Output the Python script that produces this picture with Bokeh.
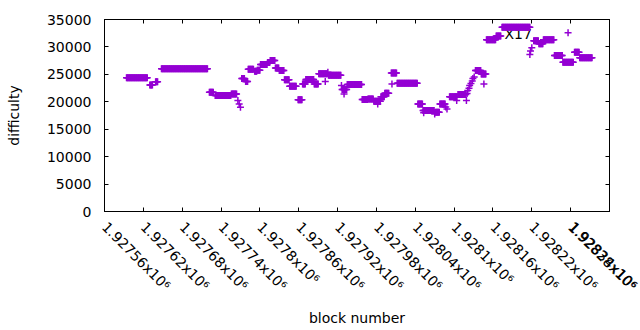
import math
from bokeh.plotting import figure
from bokeh.models import FixedTicker, LinearAxis, Range1d, ColumnDataSource
from bokeh.core.properties import value
from bokeh.embed import file_html
from bokeh.resources import INLINE

# runs of consecutive blocks with constant difficulty (start block, end block, difficulty)
run_start = [1927594, 1927630, 1927639, 1927648, 1927722, 1927731, 1927756, 1927766, 1927768, 1927770,
             1927772, 1927778, 1927782, 1927792, 1927796, 1927801, 1927812, 1927816, 1927824, 1927830,
             1927838, 1927846, 1927859, 1927866, 1927871, 1927884, 1927891, 1927901, 1927905, 1927906,
             1927926, 1927927, 1927930, 1927935, 1927958, 1927967, 1927976, 1927982, 1927987, 1927993,
             1928003, 1928004, 1928012, 1928044, 1928052, 1928053, 1928070, 1928071, 1928078, 1928087,
             1928089, 1928093, 1928104, 1928106, 1928119, 1928120, 1928121, 1928123, 1928124, 1928126,
             1928128, 1928129, 1928131, 1928133, 1928142, 1928146, 1928150, 1928165, 1928174, 1928217,
             1928218, 1928220, 1928223, 1928231, 1928238, 1928255, 1928268, 1928276, 1928286, 1928294]
run_end = [1927626, 1927634, 1927642, 1927719, 1927728, 1927755, 1927764, 1927766, 1927768, 1927770,
           1927776, 1927781, 1927790, 1927795, 1927800, 1927811, 1927815, 1927823, 1927829, 1927837,
           1927845, 1927856, 1927865, 1927870, 1927883, 1927890, 1927904, 1927901, 1927905, 1927925,
           1927926, 1927934, 1927930, 1927957, 1927966, 1927975, 1927986, 1927982, 1927992, 1927999,
           1928011, 1928004, 1928043, 1928051, 1928069, 1928053, 1928070, 1928077, 1928086, 1928087,
           1928089, 1928104, 1928104, 1928118, 1928119, 1928120, 1928121, 1928123, 1928124, 1928126,
           1928128, 1928129, 1928131, 1928141, 1928149, 1928146, 1928164, 1928172, 1928217, 1928217,
           1928218, 1928220, 1928230, 1928237, 1928254, 1928267, 1928284, 1928276, 1928293, 1928313]
run_difficulty = [24360, 23080, 23630, 26000, 21730, 21130, 21440, 20220, 19580, 18990,
                  24230, 23680, 25910, 25550, 25730, 26790, 27150, 27520, 26150, 25690,
                  24010, 22810, 20360, 23260, 24050, 23260, 25090, 23680, 25380, 24850,
                  22950, 22220, 21440, 23140, 20400, 20520, 20090, 19610, 20940, 21550,
                  25240, 23260, 23370, 19610, 18390, 18020, 17790, 18080, 19610, 19030,
                  18700, 20940, 20220, 21310, 20220, 21490, 22040, 22460, 22950, 23320,
                  23770, 24230, 24500, 25690, 25050, 23260, 31300, 31990, 33600, 28610,
                  29250, 29840, 31110, 30560, 31300, 28430, 27210, 32580, 29030, 28010]

x_ticks = [1927560, 1927620, 1927680, 1927740, 1927800, 1927860, 1927920,
           1927980, 1928040, 1928100, 1928160, 1928220, 1928280, 1928340]
x_tick_labels = ["1.92756x10⁶", "1.92762x10⁶", "1.92768x10⁶", "1.92774x10⁶", "1.9278x10⁶",
                 "1.92786x10⁶", "1.92792x10⁶", "1.92798x10⁶", "1.92804x10⁶", "1.9281x10⁶",
                 "1.92816x10⁶", "1.92822x10⁶", "1.92828x10⁶", "1.92834x10⁶"]
y_ticks = [0, 5000, 10000, 15000, 20000, 25000, 30000, 35000]

note_text = ["X17"]
note_block = [1928199]
note_difficulty = [32400]

blocks, diffs = [], []
for s, e, d in zip(run_start, run_end, run_difficulty):
    for b in range(s, e + 1):
        blocks.append(b)
        diffs.append(d)

FONT = "DejaVu Sans"
FS = "14px"
PURPLE = "#9400d3"

p = figure(frame_width=505, frame_height=192, output_backend="svg", toolbar_location=None,
           x_range=Range1d(x_ticks[0], x_ticks[-1]), y_range=Range1d(y_ticks[0], y_ticks[-1]),
           min_border_left=104, min_border_right=31, min_border_top=19, min_border_bottom=119,
           background_fill_color="white", border_fill_color="white")
p.grid.visible = False
p.outline_line_color = "black"
p.outline_line_width = 1
p.outline_line_alpha = 1

p.text(x=note_block, y=note_difficulty, text=note_text, text_font=value(FONT),
       text_font_size=FS, text_color="black", text_align="center", text_baseline="middle")

src = ColumnDataSource(dict(block=blocks, difficulty=diffs))
p.scatter("block", "difficulty", source=src, marker="cross", size=7, line_width=1.5,
          line_color=PURPLE)

xa = p.xaxis[0]
xa.ticker = FixedTicker(ticks=x_ticks)
xa.major_label_overrides = {t: l for t, l in zip(x_ticks, x_tick_labels)}
xa.major_label_orientation = -math.pi / 4
xa.axis_label = "block number"
ya = p.yaxis[0]
ya.ticker = FixedTicker(ticks=y_ticks)
ya.axis_label = "difficulty"
ya.major_label_standoff = 13
ya.axis_label_standoff = 22
xa.major_label_standoff = 13
xa.axis_label_standoff = 8

for ax in (xa, ya):
    ax.major_tick_in = 4
    ax.major_tick_out = 0
    ax.minor_tick_line_color = None
    ax.axis_line_color = "black"
    ax.major_tick_line_color = "black"
    ax.major_label_text_font = FONT
    ax.major_label_text_font_size = FS
    ax.major_label_text_color = "black"
    ax.axis_label_text_font = FONT
    ax.axis_label_text_font_size = FS
    ax.axis_label_text_font_style = "normal"
    ax.axis_label_text_color = "black"

top = LinearAxis(ticker=FixedTicker(ticks=x_ticks), major_label_text_font_size="1px",
                 major_label_text_color=None, major_tick_in=4, major_tick_out=0,
                 minor_tick_line_color=None, major_label_standoff=0, axis_line_color="black")
right = LinearAxis(ticker=FixedTicker(ticks=y_ticks), major_label_text_font_size="1px",
                   major_label_text_color=None, major_tick_in=4, major_tick_out=0,
                   minor_tick_line_color=None, major_label_standoff=0, axis_line_color="black")
p.add_layout(top, "above")
p.add_layout(right, "right")

open("out.html", "w").write(file_html(p, INLINE))
